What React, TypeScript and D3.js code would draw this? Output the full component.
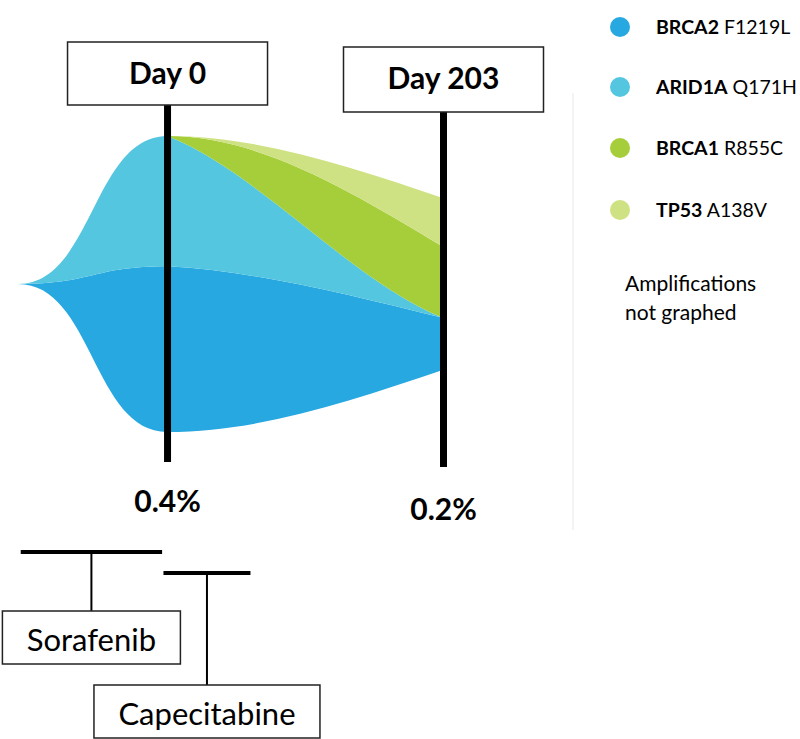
import React from "react";
import * as d3 from "d3";

// ---- data ----
const clones = ["BRCA2", "ARID1A", "BRCA1", "TP53"];
const mutations = ["F1219L", "Q171H", "R855C", "A138V"];
const cloneColors = ["#28a8e0", "#55c6df", "#a5ce3a", "#cfe283"];
const timepoints = [-110, 0, 203]; // fish origin, Day 0, Day 203
const BRCA2 = [0, 56, 17.5];
const ARID1A = [0, 44, 0];
const BRCA1 = [0, 0, 24];
const TP53 = [0, 0, 16.5];
const sampleDays = [0, 203];
const sampleLabels = ["Day 0", "Day 203"];
const ctDNA = ["0.4%", "0.2%"];
const therapies = ["Sorafenib", "Capecitabine"];
const therapyStart = [-108, -3];
const therapyEnd = [-4, 61];
const note = ["Amplifications", "not graphed"];

// curve tension per clone boundary (bottom edge .. top edge), as multiples of the segment secant
const startTension = [0, 0.3, 0.6, 0, 0];
const endTension = [1.5, 1.3, 0.6, 1.5, 1.5];

const FONT = "Lato, 'Open Sans', sans-serif";

type Pt = [number, number];

function segments(pts: Pt[], ts: number, te: number) {
  const n = pts.length;
  return d3.range(n - 1).map((i) => {
    const [x0, y0] = pts[i];
    const [x1, y1] = pts[i + 1];
    const dx = x1 - x0;
    const sec = (y1 - y0) / dx;
    const last = i === n - 2;
    const m0 = last && i > 0 ? ts * sec : 0;
    const m1 = last ? te * sec : 0;
    const k = m0 === 0 && m1 === 0 ? 0.5 : 1 / 3;
    return {
      p0: pts[i],
      c1: [x0 + k * dx, y0 + m0 * k * dx] as Pt,
      c2: [x1 - k * dx, y1 - m1 * k * dx] as Pt,
      p1: pts[i + 1],
    };
  });
}

function bandPath(upper: Pt[], lower: Pt[], bu: number, bl: number) {
  const p = d3.path();
  const up = segments(upper, startTension[bu], endTension[bu]);
  const lo = segments(lower, startTension[bl], endTension[bl]);
  p.moveTo(upper[0][0], upper[0][1]);
  up.forEach((s) => p.bezierCurveTo(s.c1[0], s.c1[1], s.c2[0], s.c2[1], s.p1[0], s.p1[1]));
  const last = lower[lower.length - 1];
  p.lineTo(last[0], last[1]);
  lo.slice().reverse().forEach((s) => p.bezierCurveTo(s.c2[0], s.c2[1], s.c1[0], s.c1[1], s.p0[0], s.p0[1]));
  p.closePath();
  return p.toString();
}

export default function App() {
  const series: Record<string, number[]> = { BRCA2, ARID1A, BRCA1, TP53 };
  const table = timepoints.map((t, i) => {
    const row: any = { t };
    clones.forEach((c) => (row[c] = series[c][i]));
    return row;
  });
  const stacked = d3.stack().keys(clones).offset(d3.stackOffsetSilhouette)(table);

  const x = d3.scaleLinear().domain([timepoints[0], timepoints[2]]).range([18, 443.5]);
  const y = d3.scaleLinear().domain([-50, 50]).range([432, 136]);

  const boxTop = [42, 47];
  const boxH = [63, 65];
  const lineEnd = [462, 467];
  const pctY = [512, 520];

  const barY = [552, 573];
  const tBoxTop = [611, 685];
  const tBoxW = [178, 226];

  return (
    <svg width={800} height={739} style={{ position: "absolute", left: 0, top: 0, background: "#fff" }}>
      {/* faint separator */}
      <line x1={573} x2={573} y1={93} y2={530} stroke="#f1f1f1" strokeWidth={1.5} />

      {/* fish plot */}
      {stacked.map((layer, li) => {
        const upper: Pt[] = layer.map((d, i) => [x(timepoints[i]), y(d[1])]);
        const lower: Pt[] = layer.map((d, i) => [x(timepoints[i]), y(d[0])]);
        return <path key={clones[li]} d={bandPath(upper, lower, li + 1, li)} fill={cloneColors[li]} stroke="none" />;
      })}

      {/* sample lines, boxes and labels */}
      {sampleDays.map((d, i) => {
        const cx = x(d);
        return (
          <g key={d}>
            <line x1={cx} x2={cx} y1={boxTop[i] + boxH[i]} y2={lineEnd[i]} stroke="#000" strokeWidth={7} />
            <rect x={cx - 100} y={boxTop[i]} width={200} height={boxH[i]} fill="#fff" stroke="#222" strokeWidth={1.5} />
            <text x={cx} y={boxTop[i] + 42} textAnchor="middle" fontFamily={FONT} fontWeight="bold" fontSize={30} fill="#000">
              {sampleLabels[i]}
            </text>
            <text x={cx} y={pctY[i]} textAnchor="middle" fontFamily={FONT} fontWeight="bold" fontSize={30} fill="#000">
              {ctDNA[i]}
            </text>
          </g>
        );
      })}

      {/* therapies */}
      {therapies.map((name, i) => {
        const x0 = x(therapyStart[i]);
        const x1 = x(therapyEnd[i]);
        const mid = (x0 + x1) / 2;
        return (
          <g key={name}>
            <line x1={x0} x2={x1} y1={barY[i]} y2={barY[i]} stroke="#000" strokeWidth={4} />
            <line x1={mid} x2={mid} y1={barY[i]} y2={tBoxTop[i]} stroke="#000" strokeWidth={2} />
            <rect x={mid - tBoxW[i] / 2} y={tBoxTop[i]} width={tBoxW[i]} height={53} fill="#fff" stroke="#222" strokeWidth={1.5} />
            <text x={mid} y={tBoxTop[i] + 40} textAnchor="middle" fontFamily={FONT} fontSize={31} fill="#000">
              {name}
            </text>
          </g>
        );
      })}

      {/* legend */}
      {clones.map((c, i) => {
        const cy = [27, 87, 148, 210][i];
        return (
          <g key={c}>
            <circle cx={620} cy={cy} r={10} fill={cloneColors[i]} />
            <text x={656} y={cy + 7} fontFamily={FONT} fontSize={19.5} fill="#000">
              <tspan fontWeight="bold">{c}</tspan>
              <tspan>{" " + mutations[i]}</tspan>
            </text>
          </g>
        );
      })}
      {note.map((t, i) => (
        <text key={t} x={625} y={291 + i * 29} fontFamily={FONT} fontSize={21} fill="#000">
          {t}
        </text>
      ))}
    </svg>
  );
}
